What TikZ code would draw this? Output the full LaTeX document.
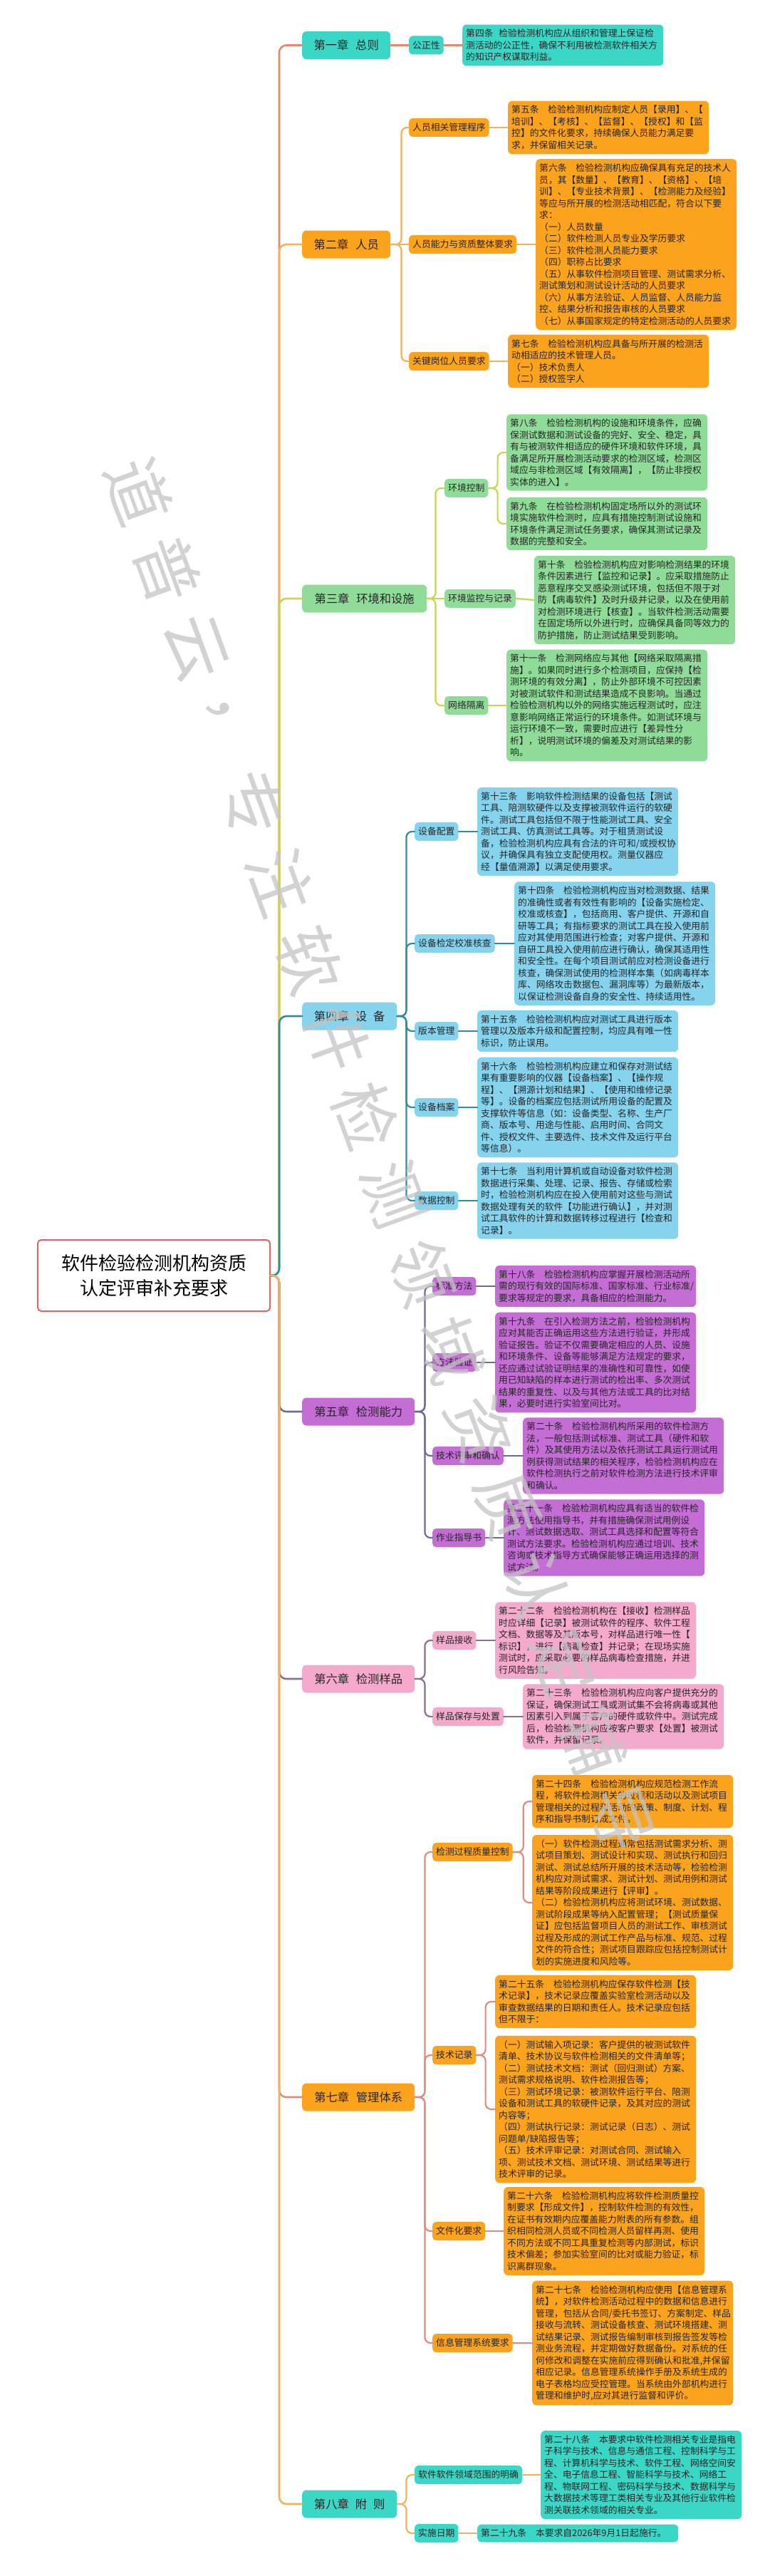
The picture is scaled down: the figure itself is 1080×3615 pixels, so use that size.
\documentclass[tikz,border=0pt]{standalone}
\usepackage{fontspec}
\setmainfont{Noto Sans CJK SC}
\definecolor{txt}{HTML}{262626}
\definecolor{cTurq}{HTML}{3AD6C6}
\definecolor{cOrange}{HTML}{FBA31C}
\definecolor{cGreen}{HTML}{8FDC99}
\definecolor{cBlue}{HTML}{86D3EE}
\definecolor{cPurple}{HTML}{C36DD5}
\definecolor{cPink}{HTML}{F5A9CD}
\definecolor{lSalmon}{HTML}{E8876B}
\definecolor{lOrange}{HTML}{F1B259}
\definecolor{lOlive}{HTML}{C9D54B}
\definecolor{lTeal}{HTML}{2B8FA2}
\definecolor{lSlate}{HTML}{6C6C9A}
\definecolor{lMauve}{HTML}{8E6E8E}
\definecolor{lSalmonB}{HTML}{E48A7C}
\definecolor{rootline}{HTML}{E06666}
\definecolor{wmgray}{HTML}{C4C4C4}
\newcommand\mygap{\kern1em}
\begin{document}
\begin{tikzpicture}[x=1pt,y=-1pt,
  chapbox/.style={rounded corners=6pt, minimum height=39pt, inner xsep=0pt, inner ysep=0pt, anchor=west, font=\fontsize{16.3}{19}\selectfont, text=txt},
  subbox/.style={rounded corners=5pt, minimum height=26pt, inner xsep=5pt, inner ysep=0pt, anchor=west, font=\fontsize{12.8}{15}\selectfont, text=txt},
  leafbox/.style={rounded corners=6pt, text width=272pt, align=left, inner xsep=5pt, inner ysep=6.5pt, anchor=west, font=\fontsize{12.8}{16.5}\selectfont, text=txt},
  lnk/.style={line width=2.2pt, rounded corners=8pt, line cap=round},
  spine/.style={line width=2.6pt, rounded corners=10pt, line cap=round},
  wm/.style={font=\fontsize{92}{92}\selectfont, text=wmgray, opacity=0.75, rotate=-70, inner sep=0pt}
]
\fill[white] (0,0) rectangle (1080,3615);
\useasboundingbox (0,0) rectangle (1080,3615);

% root
\node[draw=rootline, line width=2pt, fill=white, rounded corners=5pt, minimum width=326pt, minimum height=100pt, align=center, font=\fontsize{26}{35}\selectfont, anchor=west] (root) at (52,1790) {软件检验检测机构资质\\认定评审补充要求};

% chapters
\node[chapbox, fill=cTurq, minimum width=124pt] (ch1) at (424,63.5) {第一章\hspace{0.6em}总则};
\node[chapbox, fill=cOrange, minimum width=124pt] (ch2) at (424,343) {第二章\hspace{0.6em}人员};
\node[chapbox, fill=cGreen, minimum width=175pt] (ch3) at (424,840) {第三章\hspace{0.6em}环境和设施};
\node[chapbox, fill=cBlue, minimum width=133pt] (ch4) at (424,1426) {第四章\hspace{0.55em}设\hspace{0.55em}备};
\node[chapbox, fill=cPurple, minimum width=158pt] (ch5) at (424,1981) {第五章\hspace{0.6em}检测能力};
\node[chapbox, fill=cPink, minimum width=158pt] (ch6) at (424,2356) {第六章\hspace{0.6em}检测样品};
\node[chapbox, fill=cOrange, minimum width=158pt] (ch7) at (424,2943) {第七章\hspace{0.6em}管理体系};
\node[chapbox, fill=cTurq, minimum width=133pt] (ch8) at (424,3514) {第八章\hspace{0.55em}附\hspace{0.55em}则};

% main connectors
\draw[spine, lSalmon] (root.east) -- ++(12,0) |- (ch1.west);
\draw[spine, lOrange] (root.east) -- ++(12,0) |- (ch2.west);
\draw[spine, lOlive] (root.east) -- ++(12,0) |- (ch3.west);
\draw[spine, lTeal] (root.east) -- ++(12,0) |- (ch4.west);
\draw[spine, lSlate] (root.east) -- ++(12,0) |- (ch5.west);
\draw[spine, lMauve] (root.east) -- ++(12,0) |- (ch6.west);
\draw[spine, lSalmonB] (root.east) -- ++(12,0) |- (ch7.west);
\draw[spine, lOrange] (root.east) -- ++(12,0) |- (ch8.west);

% ---------- chapter 1
\node[subbox, fill=cTurq] (s11) at (574,63.5) {公正性};
\node[leafbox, fill=cTurq] (l11) at (649,63.5) {第四条\kern0.6em 检验检测机构应从组织和管理上保证检\\测活动的公正性，确保不利用被检测软件相关方\\的知识产权谋取利益。};
\draw[lnk, lSalmon] (ch1.east) -- (s11.west);
\draw[lnk, lSalmon] (s11.east) -- (l11.west);

% ---------- chapter 2
\node[subbox, fill=cOrange] (s21) at (574,179) {人员相关管理程序};
\node[subbox, fill=cOrange] (s22) at (574,343) {人员能力与资质整体要求};
\node[subbox, fill=cOrange] (s23) at (574,507) {关键岗位人员要求};
\node[leafbox, fill=cOrange] (l21) at (713,179) {第五条\mygap 检验检测机构应制定人员【录用】、【\\培训】、【考核】、【监督】、【授权】和【监\\控】的文件化要求，持续确保人员能力满足要\\求，并保留相关记录。};
\node[leafbox, fill=cOrange] (l22) at (752,343) {第六条\mygap 检验检测机构应确保具有充足的技术人\\员，其【数量】、【教育】、【资格】、【培\\训】、【专业技术背景】、【检测能力及经验】\\等应与所开展的检测活动相匹配，符合以下要\\求：\\（一）人员数量\\（二）软件检测人员专业及学历要求\\（三）软件检测人员能力要求\\（四）职称占比要求\\（五）从事软件检测项目管理、测试需求分析、\\测试策划和测试设计活动的人员要求\\（六）从事方法验证、人员监督、人员能力监\\控、结果分析和报告审核的人员要求\\（七）从事国家规定的特定检测活动的人员要求};
\node[leafbox, fill=cOrange] (l23) at (713,507) {第七条\mygap 检验检测机构应具备与所开展的检测活\\动相适应的技术管理人员。\\（一）技术负责人\\（二）授权签字人};
\draw[lnk, lOrange] (ch2.east) -- ++(15,0) |- (s21.west);
\draw[lnk, lOrange] (ch2.east) -- (s22.west);
\draw[lnk, lOrange] (ch2.east) -- ++(15,0) |- (s23.west);
\draw[lnk, lOrange] (s21.east) -- (l21.west);
\draw[lnk, lOrange] (s22.east) -- (l22.west);
\draw[lnk, lOrange] (s23.east) -- (l23.west);

% ---------- chapter 3
\node[subbox, fill=cGreen] (s31) at (624,685) {环境控制};
\node[subbox, fill=cGreen] (s32) at (624,840) {环境监控与记录};
\node[subbox, fill=cGreen] (s33) at (624,990) {网络隔离};
\node[leafbox, fill=cGreen] (l31a) at (711,635) {第八条\mygap 检验检测机构的设施和环境条件，应确\\保测试数据和测试设备的完好、安全、稳定，具\\有与被测软件相适应的硬件环境和软件环境，具\\备满足所开展检测活动要求的检测区域，检测区\\域应与非检测区域【有效隔离】，【防止非授权\\实体的进入】。};
\node[leafbox, fill=cGreen] (l31b) at (711,735) {第九条\mygap 在检验检测机构固定场所以外的测试环\\境实施软件检测时，应具有措施控制测试设施和\\环境条件满足测试任务要求，确保其测试记录及\\数据的完整和安全。};
\node[leafbox, fill=cGreen] (l32) at (750,842) {第十条\mygap 检验检测机构应对影响检测结果的环境\\条件因素进行【监控和记录】。应采取措施防止\\恶意程序交叉感染测试环境，包括但不限于对\\防【病毒软件】及时升级并记录，以及在使用前\\对检测环境进行【核查】。当软件检测活动需要\\在固定场所以外进行时，应确保具备同等效力的\\防护措施，防止测试结果受到影响。};
\node[leafbox, fill=cGreen] (l33) at (711,990) {第十一条\mygap 检测网络应与其他【网络采取隔离措\\施】。如果同时进行多个检测项目，应保持【检\\测环境的有效分离】，防止外部环境不可控因素\\对被测试软件和测试结果造成不良影响。当通过\\检验检测机构以外的网络实施远程测试时，应注\\意影响网络正常运行的环境条件。如测试环境与\\运行环境不一致，需要时应进行【差异性分\\析】，说明测试环境的偏差及对测试结果的影\\响。};
\draw[lnk, lOlive] (ch3.east) -- ++(12,0) |- (s31.west);
\draw[lnk, lOlive] (ch3.east) -- (s32.west);
\draw[lnk, lOlive] (ch3.east) -- ++(12,0) |- (s33.west);
\draw[lnk, lOlive] (s31.east) -- ++(13,0) |- (l31a.west);
\draw[lnk, lOlive] (s31.east) -- ++(13,0) |- (l31b.west);
\draw[lnk, lOlive] (s32.east) -- (l32.west);
\draw[lnk, lOlive] (s33.east) -- (l33.west);

% ---------- chapter 4
\node[subbox, fill=cBlue] (s41) at (582,1167) {设备配置};
\node[subbox, fill=cBlue] (s42) at (582,1324) {设备检定校准核查};
\node[subbox, fill=cBlue] (s43) at (582,1447) {版本管理};
\node[subbox, fill=cBlue] (s44) at (582,1554) {设备档案};
\node[subbox, fill=cBlue] (s45) at (582,1685) {数据控制};
\node[leafbox, fill=cBlue] (l41) at (670,1167) {第十三条\mygap 影响软件检测结果的设备包括【测试\\工具、陪测软硬件以及支撑被测软件运行的软硬\\件。测试工具包括但不限于性能测试工具、安全\\测试工具、仿真测试工具等。对于租赁测试设\\备，检验检测机构应具有合法的许可和/或授权协\\议，并确保具有独立支配使用权。测量仪器应\\经【量值溯源】以满足使用要求。};
\node[leafbox, fill=cBlue] (l42) at (722,1324) {第十四条\mygap 检验检测机构应当对检测数据、结果\\的准确性或者有效性有影响的【设备实施检定、\\校准或核查】，包括商用、客户提供、开源和自\\研等工具；有指标要求的测试工具在投入使用前\\应对其使用范围进行检查；对客户提供、开源和\\自研工具投入使用前应进行确认，确保其适用性\\和安全性。在每个项目测试前应对检测设备进行\\核查，确保测试使用的检测样本集（如病毒样本\\库、网络攻击数据包、漏洞库等）为最新版本，\\以保证检测设备自身的安全性、持续适用性。};
\node[leafbox, fill=cBlue] (l43) at (670,1447) {第十五条\mygap 检验检测机构应对测试工具进行版本\\管理以及版本升级和配置控制，均应具有唯一性\\标识，防止误用。};
\node[leafbox, fill=cBlue] (l44) at (670,1554) {第十六条\mygap 检验检测机构应建立和保存对测试结\\果有重要影响的仪器【设备档案】、【操作规\\程】、【溯源计划和结果】、【使用和维修记录\\等】。设备的档案应包括测试所用设备的配置及\\支撑软件等信息（如：设备类型、名称、生产厂\\商、版本号、用途与性能、启用时间、合同文\\件、授权文件、主要选件、技术文件及运行平台\\等信息）。};
\node[leafbox, fill=cBlue] (l45) at (670,1685) {第十七条\mygap 当利用计算机或自动设备对软件检测\\数据进行采集、处理、记录、报告、存储或检索\\时，检验检测机构应在投入使用前对这些与测试\\数据处理有关的软件【功能进行确认】，并对测\\试工具软件的计算和数据转移过程进行【检查和\\记录】。};
\draw[lnk, lTeal] (ch4.east) -- ++(13,0) |- (s41.west);
\draw[lnk, lTeal] (ch4.east) -- ++(13,0) |- (s42.west);
\draw[lnk, lTeal] (ch4.east) -- ++(13,0) |- (s43.west);
\draw[lnk, lTeal] (ch4.east) -- ++(13,0) |- (s44.west);
\draw[lnk, lTeal] (ch4.east) -- ++(13,0) |- (s45.west);
\draw[lnk, lTeal] (s41.east) -- (l41.west);
\draw[lnk, lTeal] (s42.east) -- (l42.west);
\draw[lnk, lTeal] (s43.east) -- (l43.west);
\draw[lnk, lTeal] (s44.east) -- (l44.west);
\draw[lnk, lTeal] (s45.east) -- (l45.west);

% ---------- chapter 5
\node[subbox, fill=cPurple] (s51) at (607,1805) {标准方法};
\node[subbox, fill=cPurple] (s52) at (607,1912) {方法验证};
\node[subbox, fill=cPurple] (s53) at (607,2043) {技术评审和确认};
\node[subbox, fill=cPurple] (s54) at (607,2158) {作业指导书};
\node[leafbox, fill=cPurple] (l51) at (695,1805) {第十八条\mygap 检验检测机构应掌握开展检测活动所\\需的现行有效的国际标准、国家标准、行业标准/\\要求等规定的要求，具备相应的检测能力。};
\node[leafbox, fill=cPurple] (l52) at (695,1912) {第十九条\mygap 在引入检测方法之前，检验检测机构\\应对其能否正确运用这些方法进行验证，并形成\\验证报告。验证不仅需要确定相应的人员、设施\\和环境条件、设备等能够满足方法规定的要求，\\还应通过试验证明结果的准确性和可靠性，如使\\用已知缺陷的样本进行测试的检出率、多次测试\\结果的重复性、以及与其他方法或工具的比对结\\果，必要时进行实验室间比对。};
\node[leafbox, fill=cPurple] (l53) at (734,2043) {第二十条\mygap 检验检测机构所采用的软件检测方\\法，一般包括测试标准、测试工具（硬件和软\\件）及其使用方法以及依托测试工具运行测试用\\例获得测试结果的相关程序，检验检测机构应在\\软件检测执行之前对软件检测方法进行技术评审\\和确认。};
\node[leafbox, fill=cPurple] (l54) at (707,2158) {第二十一条\mygap 检验检测机构应具有适当的软件检\\测方法使用指导书，并有措施确保测试用例设\\计、测试数据选取、测试工具选择和配置等符合\\测试方法要求。检验检测机构应通过培训、技术\\咨询或技术指导方式确保能够正确运用选择的测\\试方法。};
\draw[lnk, lSlate] (ch5.east) -- ++(14,0) |- (s51.west);
\draw[lnk, lSlate] (ch5.east) -- ++(14,0) |- (s52.west);
\draw[lnk, lSlate] (ch5.east) -- ++(14,0) |- (s53.west);
\draw[lnk, lSlate] (ch5.east) -- ++(14,0) |- (s54.west);
\draw[lnk, lSlate] (s51.east) -- (l51.west);
\draw[lnk, lSlate] (s52.east) -- (l52.west);
\draw[lnk, lSlate] (s53.east) -- (l53.west);
\draw[lnk, lSlate] (s54.east) -- (l54.west);

% ---------- chapter 6
\node[subbox, fill=cPink] (s61) at (607,2302) {样品接收};
\node[subbox, fill=cPink] (s62) at (607,2409) {样品保存与处置};
\node[leafbox, fill=cPink] (l61) at (695,2302) {第二十二条\mygap 检验检测机构在【接收】检测样品\\时应详细【记录】被测试软件的程序、软件工程\\文档、数据等及其版本号，对样品进行唯一性【\\标识】，进行【病毒检查】并记录；在现场实施\\测试时，应采取必要的样品病毒检查措施，并进\\行风险告知。};
\node[leafbox, fill=cPink] (l62) at (734,2409) {第二十三条\mygap 检验检测机构应向客户提供充分的\\保证，确保测试工具或测试集不会将病毒或其他\\因素引入到属于客户的硬件或软件中。测试完成\\后，检验检测机构应按客户要求【处置】被测试\\软件，并保留记录。};
\draw[lnk, lMauve] (ch6.east) -- ++(14,0) |- (s61.west);
\draw[lnk, lMauve] (ch6.east) -- ++(14,0) |- (s62.west);
\draw[lnk, lMauve] (s61.east) -- (l61.west);
\draw[lnk, lMauve] (s62.east) -- (l62.west);

% ---------- chapter 7
\node[subbox, fill=cOrange] (s71) at (607,2599) {检测过程质量控制};
\node[subbox, fill=cOrange] (s72) at (607,2884) {技术记录};
\node[subbox, fill=cOrange] (s73) at (607,3131) {文件化要求};
\node[subbox, fill=cOrange] (s74) at (607,3288) {信息管理系统要求};
\node[leafbox, fill=cOrange] (l71a) at (747,2528) {第二十四条\mygap 检验检测机构应规范检测工作流\\程，将软件检测相关的过程和活动以及测试项目\\管理相关的过程和活动的政策、制度、计划、程\\序和指导书制订成文件。};
\node[leafbox, fill=cOrange] (l71b) at (747,2670) {（一）软件检测过程通常包括测试需求分析、测\\试项目策划、测试设计和实现、测试执行和回归\\测试、测试总结所开展的技术活动等，检验检测\\机构应对测试需求、测试计划、测试用例和测试\\结果等阶段成果进行【评审】。\\（二）检验检测机构应将测试环境、测试数据、\\测试阶段成果等纳入配置管理；【测试质量保\\证】应包括监督项目人员的测试工作、审核测试\\过程及形成的测试工作产品与标准、规范、过程\\文件的符合性；测试项目跟踪应包括控制测试计\\划的实施进度和风险等。};
\node[leafbox, fill=cOrange] (l72a) at (695,2809) {第二十五条\mygap 检验检测机构应保存软件检测【技\\术记录】，技术记录应覆盖实验室检测活动以及\\审查数据结果的日期和责任人。技术记录应包括\\但不限于：};
\node[leafbox, fill=cOrange] (l72b) at (695,2960) {（一）测试输入项记录：客户提供的被测试软件\\清单、技术协议与软件检测相关的文件清单等；\\（二）测试技术文档：测试（回归测试）方案、\\测试需求规格说明、软件检测报告等；\\（三）测试环境记录：被测软件运行平台、陪测\\设备和测试工具的软硬件记录，及其对应的测试\\内容等；\\（四）测试执行记录：测试记录（日志）、测试\\问题单/缺陷报告等；\\（五）技术评审记录：对测试合同、测试输入\\项、测试技术文档、测试环境、测试结果等进行\\技术评审的记录。};
\node[leafbox, fill=cOrange] (l73) at (707,3131) {第二十六条\mygap 检验检测机构应将软件检测质量控\\制要求【形成文件】，控制软件检测的有效性，\\在证书有效期内应覆盖能力附表的所有参数。组\\织相同检测人员或不同检测人员留样再测、使用\\不同方法或不同工具重复检测等内部测试，标识\\技术偏差；参加实验室间的比对或能力验证，标\\识离群现象。};
\node[leafbox, fill=cOrange] (l74) at (747,3288) {第二十七条\mygap 检验检测机构应使用【信息管理系\\统】，对软件检测活动过程中的数据和信息进行\\管理，包括从合同/委托书签订、方案制定、样品\\接收与流转、测试设备核查、测试环境搭建、测\\试结果记录、测试报告编制审核到报告签发等检\\测业务流程，并定期做好数据备份。对系统的任\\何修改和调整在实施前应得到确认和批准,并保留\\相应记录。信息管理系统操作手册及系统生成的\\电子表格均应受控管理。当系统由外部机构进行\\管理和维护时,应对其进行监督和评价。};
\draw[lnk, lSalmonB] (ch7.east) -- ++(14,0) |- (s71.west);
\draw[lnk, lSalmonB] (ch7.east) -- ++(14,0) |- (s72.west);
\draw[lnk, lSalmonB] (ch7.east) -- ++(14,0) |- (s73.west);
\draw[lnk, lSalmonB] (ch7.east) -- ++(14,0) |- (s74.west);
\draw[lnk, lSalmonB] (s71.east) -- ++(15,0) |- (l71a.west);
\draw[lnk, lSalmonB] (s71.east) -- ++(15,0) |- (l71b.west);
\draw[lnk, lSalmonB] (s72.east) -- ++(13,0) |- (l72a.west);
\draw[lnk, lSalmonB] (s72.east) -- ++(13,0) |- (l72b.west);
\draw[lnk, lSalmonB] (s73.east) -- (l73.west);
\draw[lnk, lSalmonB] (s74.east) -- (l74.west);

% ---------- chapter 8
\node[subbox, fill=cTurq] (s81) at (582,3473) {软件软件领域范围的明确};
\node[subbox, fill=cTurq] (s82) at (582,3555) {实施日期};
\node[leafbox, fill=cTurq] (l81) at (759,3473) {第二十八条\mygap 本要求中软件检测相关专业是指电\\子科学与技术、信息与通信工程、控制科学与工\\程、计算机科学与技术、软件工程、网络空间安\\全、电子信息工程、智能科学与技术、网络工\\程、物联网工程、密码科学与技术、数据科学与\\大数据技术等理工类相关专业及其他行业软件检\\测关联技术领域的相关专业。};
\node[leafbox, fill=cTurq] (l82) at (670,3555) {第二十九条\mygap 本要求自2026年9月1日起施行。};
\draw[lnk, lOrange] (ch8.east) -- ++(13,0) |- (s81.west);
\draw[lnk, lOrange] (ch8.east) -- ++(13,0) |- (s82.west);
\draw[lnk, lOrange] (s81.east) -- (l81.west);
\draw[lnk, lOrange] (s82.east) -- (l82.west);

% ---------- watermark
\foreach \i/\c in {0/道,1/普,2/云,3/，,4/专,5/注,6/软,7/件,8/检,9/测,10/领,11/域,12/资,13/质,14/认,15/定,16/辅,17/导}
  \node[wm] (wm\i) at (195+\i*39.81, 690+\i*109.56) {\c};
\end{tikzpicture}
\end{document}
